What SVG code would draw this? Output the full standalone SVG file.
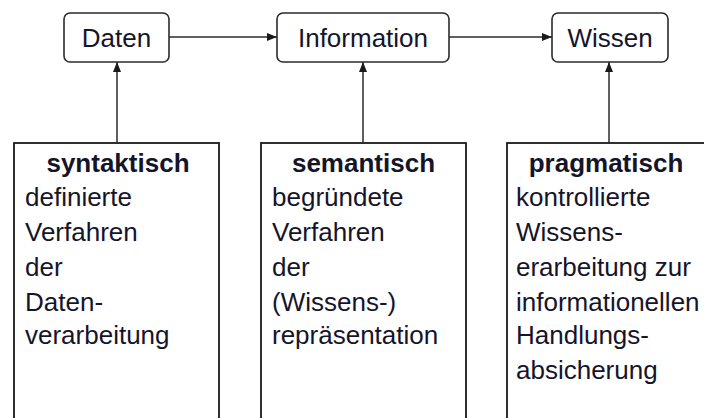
<svg xmlns="http://www.w3.org/2000/svg" width="704" height="418" viewBox="0 0 704 418">
  <style>
    .term { fill: #fff; stroke: #2b2b2b; stroke-width: 1.6; }
    .col { fill: #fff; stroke: #1a1a1a; stroke-width: 1.8; }
    .lbl { font-family: "Liberation Sans", Arial, sans-serif; font-size: 26px; fill: #15152a; }
    .head { font-weight: bold; text-anchor: middle; }
    .mid { text-anchor: middle; }
    .edge { stroke: #2b2b2b; stroke-width: 1.5; fill: none; marker-end: url(#tip); }
  </style>
  <defs>
    <marker id="tip" viewBox="0 0 10 8" refX="10" refY="4" markerWidth="10" markerHeight="8" markerUnits="userSpaceOnUse" orient="auto">
      <path d="M0,0 L10,4 L0,8 Z" fill="#1a1a1a"/>
    </marker>
  </defs>

  <g id="connectors">
    <line class="edge" x1="169" y1="37" x2="277" y2="37"/>
    <line class="edge" x1="449" y1="37" x2="552" y2="37"/>
    <line class="edge" x1="117" y1="143" x2="117" y2="62"/>
    <line class="edge" x1="363" y1="143" x2="363" y2="62"/>
    <line class="edge" x1="609" y1="143" x2="609" y2="62"/>
  </g>

  <g id="daten">
    <rect class="term" x="64" y="13" width="105" height="49" rx="6"/>
    <text class="lbl mid" x="116.5" y="47">Daten</text>
  </g>
  <g id="information">
    <rect class="term" x="277" y="13" width="172" height="49" rx="6"/>
    <text class="lbl mid" x="363" y="47">Information</text>
  </g>
  <g id="wissen">
    <rect class="term" x="552" y="13" width="116" height="49" rx="6"/>
    <text class="lbl mid" x="610" y="47">Wissen</text>
  </g>

  <g id="syntaktisch">
    <rect class="col" x="14" y="143" width="205" height="290"/>
    <text class="lbl head" x="118" y="172">syntaktisch</text>
    <text class="lbl" x="25" y="206">definierte</text>
    <text class="lbl" x="25" y="241">Verfahren</text>
    <text class="lbl" x="25" y="276">der</text>
    <text class="lbl" x="25" y="311">Daten-</text>
    <text class="lbl" x="25" y="344">verarbeitung</text>
  </g>
  <g id="semantisch">
    <rect class="col" x="261" y="143" width="205" height="290"/>
    <text class="lbl head" x="363.5" y="172">semantisch</text>
    <text class="lbl" x="272" y="206">begründete</text>
    <text class="lbl" x="272" y="241">Verfahren</text>
    <text class="lbl" x="272" y="276">der</text>
    <text class="lbl" x="272" y="311">(Wissens-)</text>
    <text class="lbl" x="272" y="344">repräsentation</text>
  </g>
  <g id="pragmatisch">
    <rect class="col" x="507" y="143" width="205" height="290"/>
    <text class="lbl head" x="606" y="172">pragmatisch</text>
    <text class="lbl" x="516" y="206">kontrollierte</text>
    <text class="lbl" x="516" y="241">Wissens-</text>
    <text class="lbl" x="516" y="276">erarbeitung zur</text>
    <text class="lbl" x="516" y="311">informationellen</text>
    <text class="lbl" x="516" y="344">Handlungs-</text>
    <text class="lbl" x="516" y="379">absicherung</text>
  </g>
</svg>
